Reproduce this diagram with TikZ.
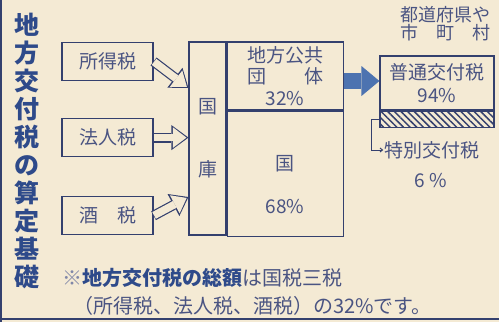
\documentclass[tikz,border=0pt]{standalone}
\usepackage{fontspec}
\newfontfamily\jp{Noto Sans CJK JP}
\usetikzlibrary{positioning,arrows.meta,patterns.meta}

\definecolor{paper}{HTML}{F4EAD4}
\definecolor{ink}{HTML}{34406E}
\definecolor{inktext}{HTML}{4A5482}
\definecolor{titleblue}{HTML}{2E4A8A}
\definecolor{bigblue}{HTML}{4D73B0}

\tikzset{
	taxbox/.style={draw=ink, line width=1.1pt, minimum width=91pt, minimum height=38pt, inner sep=0pt,
		font=\jp\fontsize{19}{21}\selectfont, text=inktext},
	cell/.style={draw=ink, line width=1.1pt, inner sep=0pt, align=center,
		font=\jp\fontsize{19}{21}\selectfont, text=inktext},
	celltext/.style={inner sep=1pt, align=center, font=\jp\fontsize{19}{21}\selectfont, text=inktext},
	hollowout/.style={draw=ink, line width=10pt, -{Triangle[length=17pt,width=25pt,line width=0pt]}},
	hollowin/.style={draw=paper, line width=7.6pt, shorten >=2pt, shorten <=0.6pt,
		-{Triangle[length=13.5pt,width=20.5pt,line width=0pt]}},
	bigarrow/.style={draw=bigblue, line width=16pt, -{Triangle[length=18pt,width=30pt,line width=0pt]}},
}

\begin{document}
\begin{tikzpicture}[x=1pt,y=-1pt]
	\fill[paper] (0,0) rectangle (499,322);
	\useasboundingbox (0,0) rectangle (499,322);
	\draw[ink, line width=1.5pt] (1,0) -- (1,322);
	\draw[ink, line width=2pt] (0,319) -- (499,319);

	% title
	\node (title) at (27.5,151) [align=center, inner sep=0pt, text=titleblue,
		font=\jp\bfseries\fontsize{25}{28}\selectfont]
		{地\\方\\交\\付\\税\\の\\算\\定\\基\\礎};

	% three taxes
	\node[taxbox] (shotoku) at (107.5,61.5) {所得税};
	\node[taxbox, below=37pt of shotoku] (hojin) {法人税};
	\node[taxbox, below=39pt of hojin] (shuzei) {酒　税};

	% national treasury
	\node[cell, minimum width=37pt, minimum height=193pt] (kokko) at (207.5,138.5) {国\\[42pt]庫};
	\node[cell, minimum width=116pt, minimum height=68pt, anchor=north west] (chiho) at (kokko.north east)
		{地方公共\\団　　体\\[1pt]32\%};
	\node[cell, minimum width=116pt, minimum height=125pt, below=0pt of chiho] (kuni) {};
	\node[celltext] (kunitext) at ([yshift=-11pt]kuni.center) {国\\[22pt]68\%};

	\coordinate (intoA) at (kokko.west |- 0,88);
	\coordinate (intoB) at (kokko.west |- hojin.east);
	\coordinate (intoC) at (kokko.west |- 0,197);
	\foreach \from/\to in {shotoku/intoA, hojin/intoB, shuzei/intoC} {
		\draw[hollowout] (\from.east) -- (\to);
		\draw[hollowin] (\from.east) -- (\to);
	}

	% local governments
	\node (local) at (445,24) [align=center, inner sep=0pt, text=inktext,
		font=\jp\fontsize{18}{18}\selectfont] {都道府県や\\市　町　村};
	\node[cell, minimum width=114pt, minimum height=54pt] (futsu) at (437,83) {普通交付税\\[2pt]94\%};
	\node[draw=ink, line width=1.1pt, minimum width=114pt, minimum height=16pt, inner sep=0pt,
		below=0pt of futsu, pattern={Lines[angle=-45,distance=4.7pt,line width=1.5pt]}, pattern color=ink] (hatch) {};
	\node[celltext] (toku) at (432,150) {特別交付税};
	\node[celltext] (tokupct) at (431,181) {6 \%};

	\coordinate (bigy) at (0,81);
	\draw[bigarrow] (chiho.east |- bigy) -- (futsu.west |- bigy);
	\draw[ink, line width=1pt, -{Straight Barb[length=2.5pt,width=4pt]}]
		(hatch.west) -- ++(-8pt,0) |- (toku.west);

	% note
	\node (note) [anchor=west, align=left, inner sep=0pt, text=inktext,
		font=\jp\fontsize{20}{28}\selectfont] at (62,292)
		{{\color{inktext!70}※}{\bfseries\color{titleblue}地方交付税の総額}は国税三税\\
		\hspace*{11pt}（所得税、法人税、酒税）の32\%です。};
\end{tikzpicture}
\end{document}
